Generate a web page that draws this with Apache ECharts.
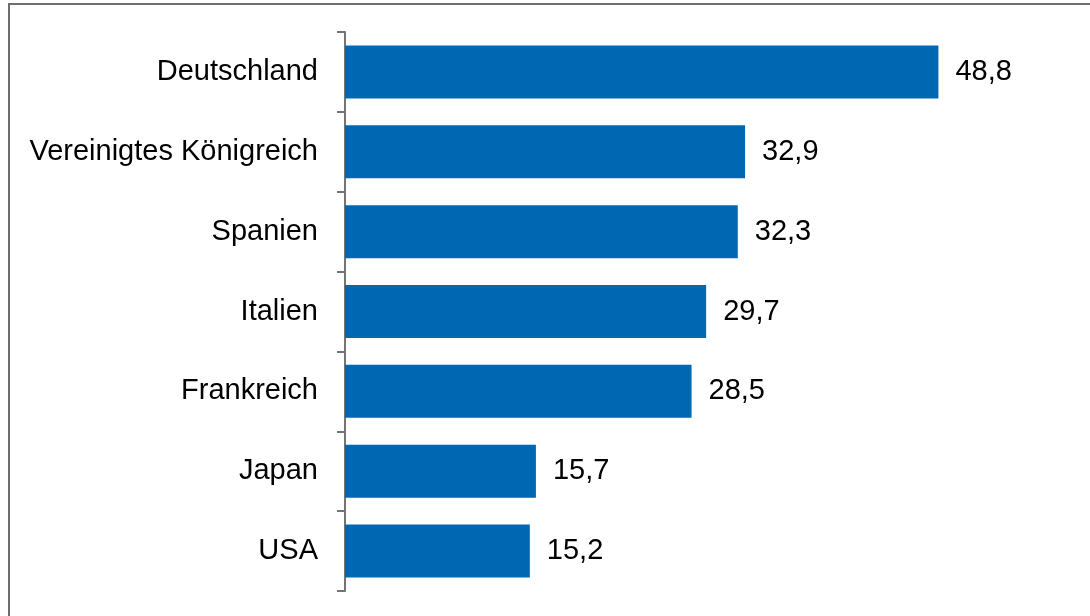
<!DOCTYPE html>
<html>
<head>
<meta charset="utf-8">
<style>
  html, body { margin: 0; padding: 0; background: #ffffff; }
  #chart { width: 1090px; height: 616px; }
</style>
<script src="https://cdn.jsdelivr.net/npm/echarts@6/dist/echarts.min.js"></script>
</head>
<body>
<div id="chart"></div>
<script>
// Länder (von oben nach unten) und zugehörige Werte
const countries = ['Deutschland', 'Vereinigtes Königreich', 'Spanien', 'Italien', 'Frankreich', 'Japan', 'USA'];
const values = [48.8, 32.9, 32.3, 29.7, 28.5, 15.7, 15.2];

const chart = echarts.init(document.getElementById('chart'), null, { renderer: 'canvas' });

const fmt = v => v.toFixed(1).replace('.', ',');
const FONT = 'Liberation Sans, Arial, sans-serif';

chart.setOption({
  animation: false,
  backgroundColor: '#ffffff',
  textStyle: { fontFamily: FONT },
  // Rahmen oben und links
  graphic: [
    { type: 'rect', shape: { x: 8, y: 3, width: 1082, height: 2 }, style: { fill: '#6e6e6e' }, silent: true },
    { type: 'rect', shape: { x: 8, y: 3, width: 2, height: 613 }, style: { fill: '#6e6e6e' }, silent: true }
  ],
  grid: { left: 345, top: 32, width: 608, height: 559, containLabel: false },
  xAxis: {
    type: 'value',
    min: 0,
    max: 50,
    show: false
  },
  yAxis: {
    type: 'category',
    inverse: true,
    data: countries,
    axisLine: { show: true, lineStyle: { color: '#747474', width: 2 } },
    axisTick: { show: true, length: 8, lineStyle: { color: '#747474', width: 2 } },
    axisLabel: {
      color: '#000000',
      fontSize: 29,
      fontFamily: FONT,
      margin: 27
    },
    splitLine: { show: false }
  },
  series: [{
    type: 'bar',
    data: values,
    barWidth: 53,
    itemStyle: { color: '#0068b3' },
    label: {
      show: true,
      position: 'right',
      distance: 17,
      color: '#000000',
      fontSize: 29,
      fontFamily: FONT,
      formatter: p => fmt(p.value)
    }
  }]
});
</script>
</body>
</html>
